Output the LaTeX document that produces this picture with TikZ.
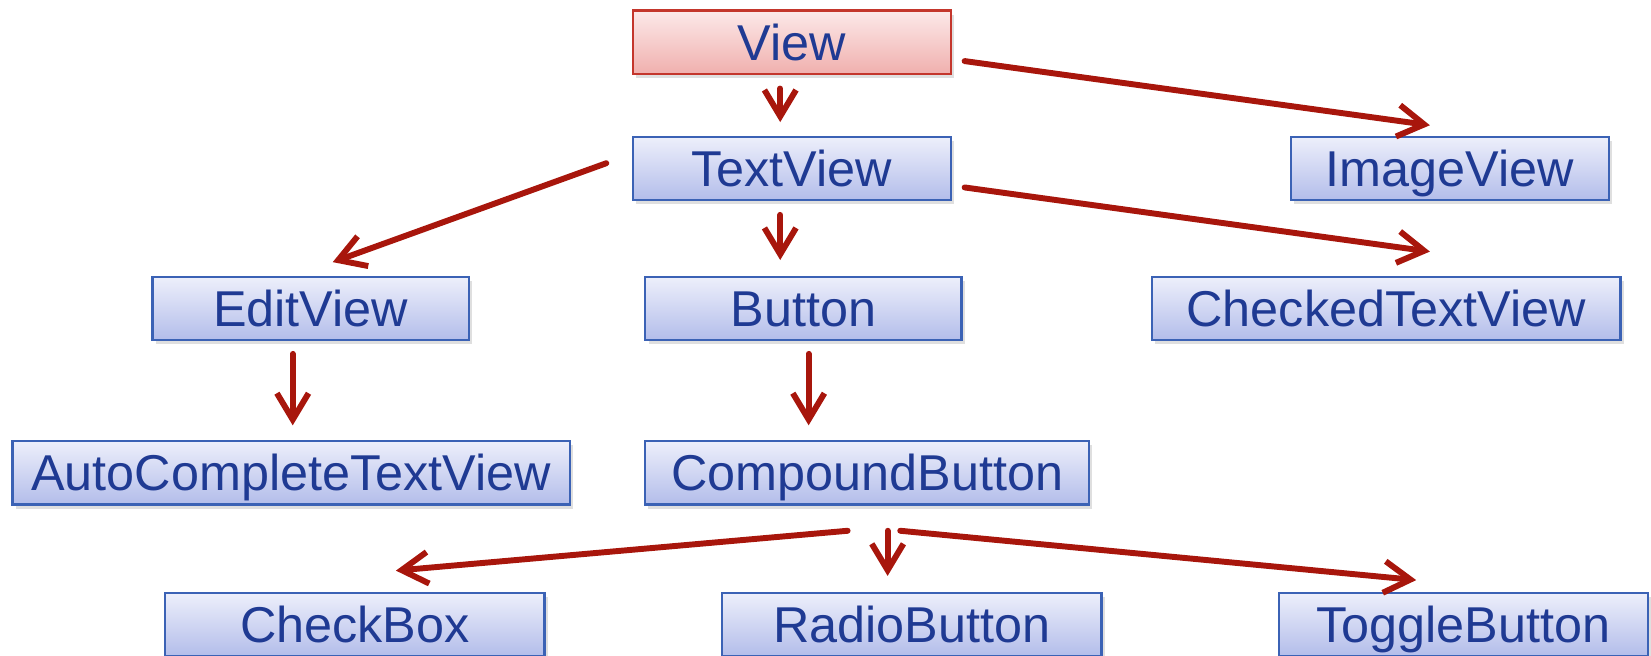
\documentclass[tikz,border=0pt]{standalone}
\usepackage{fontspec}
\setmainfont{Liberation Sans}
\usetikzlibrary{arrows.meta,calc,shadows}
\definecolor{tblue}{HTML}{1F3A93}
\definecolor{tedge}{HTML}{3B62B5}
\definecolor{ttop}{HTML}{EDEFFB}
\definecolor{tbot}{HTML}{B3BDEA}
\definecolor{rtop}{HTML}{FCE9E9}
\definecolor{rbot}{HTML}{F0B0AE}
\definecolor{redge}{HTML}{C4362C}
\definecolor{tarrow}{HTML}{A8160C}

\begin{document}
\begin{tikzpicture}[x=0.01cm, y=-0.01cm, font=\fontsize{13.6}{16}\selectfont,
  cls/.style={draw=tedge, line width=0.6pt, top color=ttop, bottom color=tbot, text=tblue,
    minimum height=0.6cm, inner sep=0pt, text height=0.4cm, text depth=0.06cm,
    drop shadow={shadow xshift=0.3mm, shadow yshift=-0.4mm, opacity=0.25}},
  root/.style={cls, draw=redge, top color=rtop, bottom color=rbot},
  inh/.style={-{Straight Barb[length=2.5mm,width=3mm]}, line width=1.6pt, tarrow, line cap=round}]
\useasboundingbox (0,0) rectangle (1568,623);
% class boxes
\node[root, minimum width=3.02cm] (view)     at (752,40)    {View};
\node[cls,  minimum width=3.02cm] (textview) at (752,160)   {TextView};
\node[cls,  minimum width=3.02cm] (image)    at (1377,160)  {ImageView};
\node[cls,  minimum width=3.00cm] (edit)     at (295,293)   {EditView};
\node[cls,  minimum width=3.00cm] (button)   at (763,293)   {Button};
\node[cls,  minimum width=4.45cm] (checked)  at (1316.5,293) {CheckedTextView};
\node[cls,  minimum width=5.29cm] (auto)     at (276.5,449) {AutoCompleteTextView};
\node[cls,  minimum width=4.21cm] (compound) at (823.5,449) {CompoundButton};
\node[cls,  minimum width=3.60cm] (checkbox) at (337,593)   {CheckBox};
\node[cls,  minimum width=3.60cm] (radio)    at (866,593)   {RadioButton};
\node[cls,  minimum width=3.50cm] (toggle)   at (1390,593)  {ToggleButton};
% inheritance arrows
\draw[inh] ($(view.south)+(-11,13)$) -- ($(textview.north)+(-11,-13)$);
\draw[inh] ($(view.east)+(12,18)$) -- ($(image.north)+(-19,-10)$);
\draw[inh] ($(textview.west)+(-24,-5)$) -- ($(edit.north)+(21,-13)$);
\draw[inh] ($(textview.south)+(-11,13)$) -- ($(button.north)+(-22,-15)$);
\draw[inh] ($(textview.east)+(12,18)$) -- ($(checked.north)+(41.5,-23)$);
\draw[inh] ($(edit.south)+(-17,12)$) -- ($(auto.north)+(1.5,-14)$);
\draw[inh] ($(button.south)+(5,12)$) -- ($(compound.north)+(-55.5,-14)$);
\draw[inh] ($(compound.south)+(-18.5,24)$) -- ($(checkbox.north)+(39,-20)$);
\draw[inh] ($(compound.south)+(19.5,24)$) -- ($(radio.north)+(-23,-15)$);
\draw[inh] ($(compound.south)+(31.5,24)$) -- ($(toggle.north)+(-45,-11)$);
\end{tikzpicture}
\end{document}
